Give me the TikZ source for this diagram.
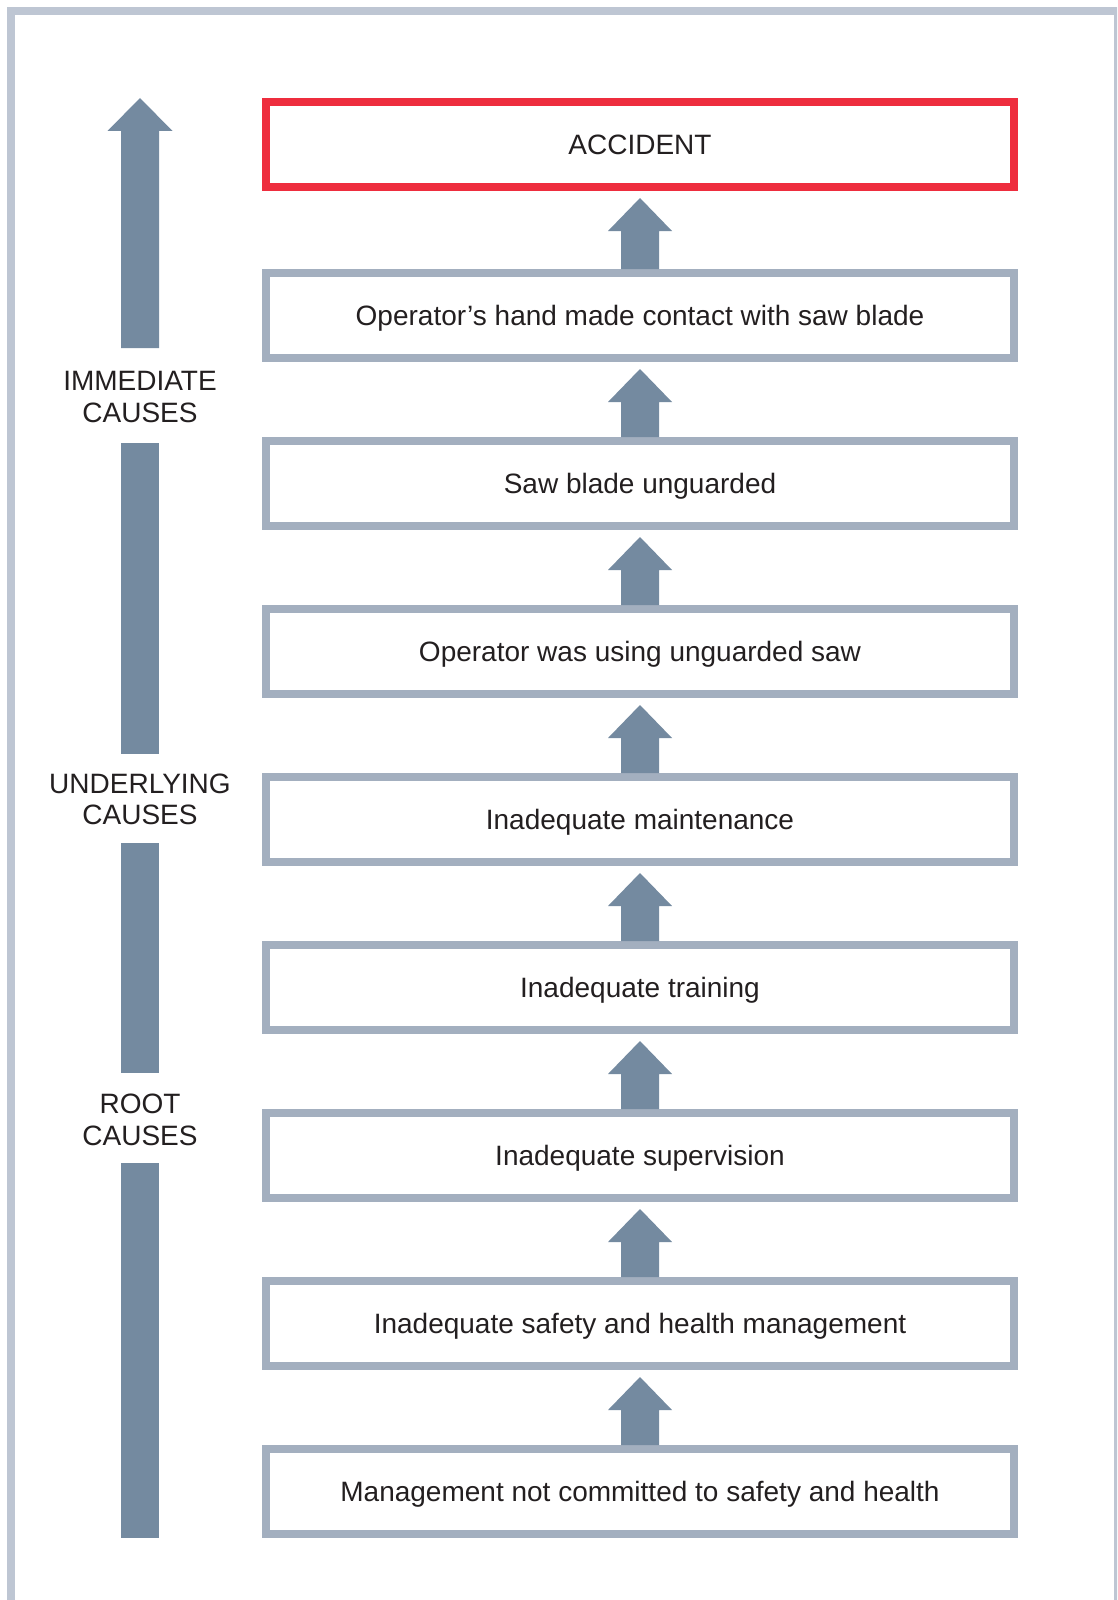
\documentclass[tikz,border=0pt]{standalone}
\usepackage{fontspec}
\setmainfont{Liberation Sans}
\definecolor{framec}{HTML}{BEC6D3}
\definecolor{boxc}{HTML}{A3AFBF}
\definecolor{arrowc}{HTML}{748AA0}
\definecolor{redc}{HTML}{EE2D3E}
\definecolor{textc}{HTML}{231F20}
\tikzset{
  stagebox/.style={draw=boxc, line width=8pt, fill=white, rectangle,
    minimum width=748pt, minimum height=85pt, inner sep=0pt, outer sep=4pt,
    text height=20pt, text depth=0pt, text=textc,
    font=\fontsize{28}{31.5}\selectfont},
  accbox/.style={stagebox, draw=redc},
  sidelabel/.style={anchor=base, inner sep=0pt, text=textc,
    font=\fontsize{28}{31.5}\selectfont},
  barfill/.style={fill=arrowc},
}
\newcommand\uparr[2]{%
  \fill[arrowc] ([xshift=-19pt]#1.north) -- ([xshift=-19pt,yshift=-40pt]#2.south)
    -- ([xshift=-32pt,yshift=-40pt]#2.south) -- ([yshift=-7pt]#2.south)
    -- ([xshift=32pt,yshift=-40pt]#2.south) -- ([xshift=19pt,yshift=-40pt]#2.south)
    -- ([xshift=19pt]#1.north) -- cycle;}
\begin{document}
\begin{tikzpicture}[x=1pt,y=-1pt]
\useasboundingbox (0,0) rectangle (1117,1600);
\fill[white] (0,0) rectangle (1117,1600);
\begin{scope}
\clip (0,0) rectangle (1117,1600);
\draw[framec, line width=8pt] (11,11) rectangle (1118,1620);
\end{scope}

% boxes
\node[accbox]   (b0) at (640,144.5) {ACCIDENT};
\node[stagebox] (b1) at (640,315.5) {Operator’s hand made contact with saw blade};
\node[stagebox] (b2) at (640,483.5) {Saw blade unguarded};
\node[stagebox] (b3) at (640,651.5) {Operator was using unguarded saw};
\node[stagebox] (b4) at (640,819.5) {Inadequate maintenance};
\node[stagebox] (b5) at (640,987.5) {Inadequate training};
\node[stagebox] (b6) at (640,1155.5){Inadequate supervision};
\node[stagebox] (b7) at (640,1323.5){Inadequate safety and health management};
\node[stagebox] (b8) at (640,1491.5){Management not committed to safety and health};

\uparr{b1}{b0}
\uparr{b2}{b1}
\uparr{b3}{b2}
\uparr{b4}{b3}
\uparr{b5}{b4}
\uparr{b6}{b5}
\uparr{b7}{b6}
\uparr{b8}{b7}

% side labels
\node[sidelabel] (imm1) at (140,390)  {IMMEDIATE};
\node[sidelabel] (imm2) at (140,422)  {CAUSES};
\node[sidelabel] (und1) at (140,793)  {UNDERLYING};
\node[sidelabel] (und2) at (140,824)  {CAUSES};
\node[sidelabel] (root1) at (140,1113) {ROOT};
\node[sidelabel] (root2) at (140,1145) {CAUSES};

% side bar (arrow)
\coordinate (tipL) at (140,98);
\fill[barfill] (121,348) -- (121,131) -- (107.5,131) -- (tipL) -- (172.5,131) -- (159,131) -- (159,348) -- cycle;
\fill[barfill] (121,443) rectangle (159,754);
\fill[barfill] (121,843) rectangle (159,1073);
\fill[barfill] (121,1163) rectangle (159,1538);
\end{tikzpicture}
\end{document}
